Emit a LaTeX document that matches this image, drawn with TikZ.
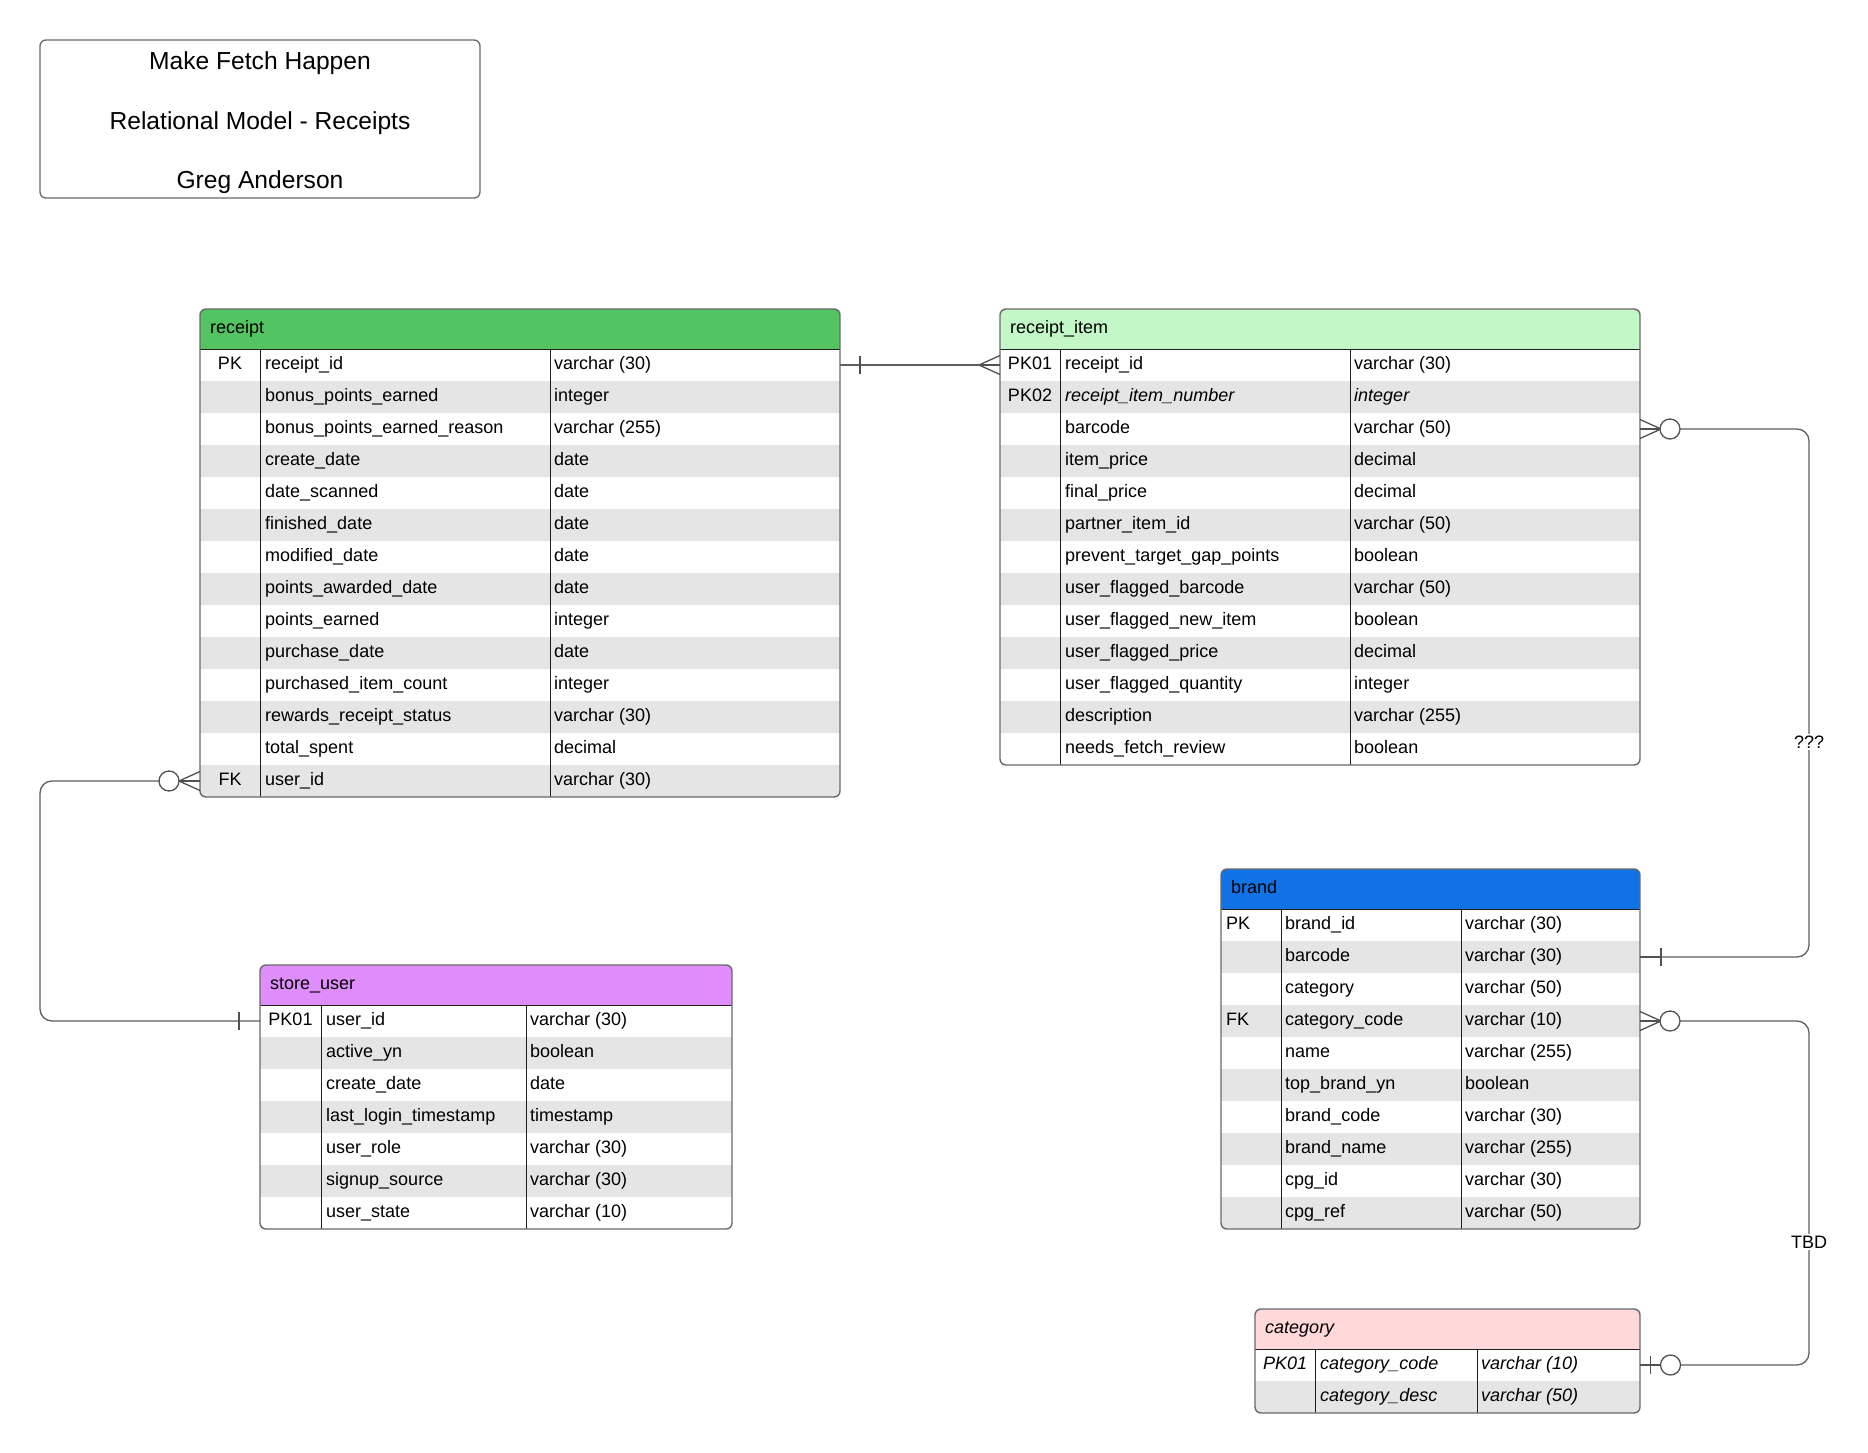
\documentclass[tikz,border=0pt]{standalone}
\usepackage{fontspec}
\setmainfont{Liberation Sans}
\usetikzlibrary{calc}

\definecolor{hdrgreen}{RGB}{84,196,98}
\definecolor{hdrmint}{RGB}{195,247,200}
\definecolor{hdrblue}{RGB}{16,114,228}
\definecolor{hdrviolet}{RGB}{223,141,250}
\definecolor{hdrpink}{RGB}{255,216,218}
\definecolor{rowgray}{RGB}{229,229,229}
\definecolor{framegray}{RGB}{105,105,105}
\definecolor{linkgray}{RGB}{95,95,95}
\definecolor{divblack}{RGB}{30,30,30}

\tikzset{
  tableframe/.style={draw=framegray, line width=1.4pt, rounded corners=6pt, inner sep=0pt, outer sep=0pt},
  titleframe/.style={draw=framegray, line width=1.3pt, rounded corners=6pt, inner sep=0pt, outer sep=0pt},
  divline/.style={draw=divblack, line width=1pt},
  celltext/.style={inner sep=0pt, font=\fontsize{18}{21}\selectfont},
  titletext/.style={inner sep=0pt, font=\fontsize{24.6}{28}\selectfont},
  link/.style={draw=linkgray, line width=1.3pt, rounded corners=12pt},
  linkmark/.style={draw=linkgray!85!black, line width=1.3pt},
  linklabel/.style={fill=white, inner sep=2pt, font=\fontsize{18}{21}\selectfont},
}

% An entity table: #1 name, #2 left, #3 top, #4 right, #5 first divider,
% #6 second divider, #7 number of rows, #8 header colour, #9 title
\newcommand\erdtable[9]{%
  \pgfmathsetmacro\erdhy{#3+40}%
  \pgfmathsetmacro\erdby{#3+40+32*#7}%
  \pgfmathsetmacro\erdw{#4-#2}%
  \pgfmathsetmacro\erdh{40+32*#7}%
  \begin{scope}
    \clip[rounded corners=6pt] (#2,#3) rectangle (#4,\erdby);
    \fill[white] (#2,#3) rectangle (#4,\erdby);
    \fill[#8] (#2,#3) rectangle (#4,\erdhy);
    \foreach \i in {1,...,#7}{%
      \pgfmathsetmacro\erdra{\erdhy+32*(\i-1)}%
      \pgfmathsetmacro\erdrb{\erdhy+32*\i}%
      \pgfmathsetmacro\erdrc{\erdhy+32*\i-16}%
      \ifodd\i\else\fill[rowgray] (#2,\erdra) rectangle (#4,\erdrb);\fi
      \coordinate (#1-r\i-w) at (#2,\erdrc);
      \coordinate (#1-r\i-e) at (#4,\erdrc);
    }
  \end{scope}
  \draw[divline] (#2,\erdhy) -- (#4,\erdhy);
  \draw[divline] (#5,\erdhy) -- (#5,\erdby);
  \draw[divline] (#6,\erdhy) -- (#6,\erdby);
  \node[tableframe, minimum width=\erdw pt, minimum height=\erdh pt, anchor=north west] (#1) at (#2,#3) {};
  \node[celltext, anchor=base west] (#1-name) at ({#2+10},{#3+24}) {#9};
}

% Rows of a table: #1 name, #2 key x, #3 key anchor, #4 field x,
% #5 type x, #6 header bottom, #7 key/field/type list
\newcommand\erdfields[7]{%
  \foreach \k/\f/\t [count=\i] in {#7}{%
    \pgfmathsetmacro\erdbl{#6+32*\i-12}%
    \node[celltext, anchor=#3] (#1-k\i) at (#2,\erdbl) {\k};
    \node[celltext, anchor=base west] (#1-f\i) at (#4,\erdbl) {\f};
    \node[celltext, anchor=base west] (#1-t\i) at (#5,\erdbl) {\t};
  }}

% Relationship end marks: #1 end coordinate, #2 signed offset or direction
\newcommand\linkbar[2]{%
  \draw[linkmark] ($(#1)+({#2},-9)$) -- ($(#1)+({#2},9)$);}
\newcommand\linkcrow[2]{%
  \draw[linkmark] ($(#1)+(0,-9.5)$) -- ($(#1)+({21*(#2)},0)$) -- ($(#1)+(0,9.5)$);
  \draw[linkmark, line width=2.2pt] (#1) -- ($(#1)+({21*(#2)},0)$);}
\newcommand\linkzero[2]{%
  \draw[linkmark, fill=white] ($(#1)+({#2},0)$) circle[radius=10pt];}

\begin{document}
\begin{tikzpicture}[x=1pt, y=-1pt]
  \useasboundingbox (0,0) rectangle (1868,1453);
  \fill[white] (0,0) rectangle (1868,1453);

  % Title block
  \node[titleframe, minimum width=440pt, minimum height=158pt, anchor=north west] (title) at (40,40) {};
  \node[titletext, anchor=base] (title-l1) at (260,70) {Make Fetch Happen};
  \node[titletext, anchor=base] (title-l2) at (260,129) {Relational Model - Receipts};
  \node[titletext, anchor=base] (title-l3) at (260,188) {Greg Anderson};

  % receipt
  \erdtable{receipt}{200}{309}{840}{260}{550}{14}{hdrgreen}{receipt}
  \erdfields{receipt}{230}{base}{265}{554}{349}{
    PK/receipt\_id/varchar (30),
    {}/bonus\_points\_earned/integer,
    {}/bonus\_points\_earned\_reason/varchar (255),
    {}/create\_date/date,
    {}/date\_scanned/date,
    {}/finished\_date/date,
    {}/modified\_date/date,
    {}/points\_awarded\_date/date,
    {}/points\_earned/integer,
    {}/purchase\_date/date,
    {}/purchased\_item\_count/integer,
    {}/rewards\_receipt\_status/varchar (30),
    {}/total\_spent/decimal,
    FK/user\_id/varchar (30)}

  % receipt_item
  \erdtable{item}{1000}{309}{1640}{1060}{1350}{13}{hdrmint}{receipt\_item}
  \erdfields{item}{1030}{base}{1065}{1354}{349}{
    PK01/receipt\_id/varchar (30),
    PK02/\textit{receipt\_item\_number}/\textit{integer},
    {}/barcode/varchar (50),
    {}/item\_price/decimal,
    {}/final\_price/decimal,
    {}/partner\_item\_id/varchar (50),
    {}/prevent\_target\_gap\_points/boolean,
    {}/user\_flagged\_barcode/varchar (50),
    {}/user\_flagged\_new\_item/boolean,
    {}/user\_flagged\_price/decimal,
    {}/user\_flagged\_quantity/integer,
    {}/description/varchar (255),
    {}/needs\_fetch\_review/boolean}

  % brand
  \erdtable{brand}{1221}{869}{1640}{1281}{1461}{10}{hdrblue}{brand}
  \erdfields{brand}{1226}{base west}{1285}{1465}{909}{
    PK/brand\_id/varchar (30),
    {}/barcode/varchar (30),
    {}/category/varchar (50),
    FK/category\_code/varchar (10),
    {}/name/varchar (255),
    {}/top\_brand\_yn/boolean,
    {}/brand\_code/varchar (30),
    {}/brand\_name/varchar (255),
    {}/cpg\_id/varchar (30),
    {}/cpg\_ref/varchar (50)}

  % store_user
  \erdtable{store}{260}{965}{732}{321}{526}{7}{hdrviolet}{store\_user}
  \erdfields{store}{290.5}{base}{326}{530}{1005}{
    PK01/user\_id/varchar (30),
    {}/active\_yn/boolean,
    {}/create\_date/date,
    {}/last\_login\_timestamp/timestamp,
    {}/user\_role/varchar (30),
    {}/signup\_source/varchar (30),
    {}/user\_state/varchar (10)}

  % category
  \erdtable{category}{1255}{1309}{1640}{1315}{1477}{2}{hdrpink}{\textit{category}}
  \erdfields{category}{1285}{base}{1320}{1481}{1349}{
    \textit{PK01}/\textit{category\_code}/\textit{varchar (10)},
    {}/\textit{category\_desc}/\textit{varchar (50)}}

  % Routing rails for the bent relationships
  \coordinate (rrail) at (1809,0);
  \coordinate (lrail) at (40,0);

  % receipt 1 -- many receipt_item
  \draw[link] (receipt-r1-e) -- (item-r1-w);
  \linkbar{receipt-r1-e}{20}
  \linkcrow{item-r1-w}{-1}

  % receipt_item many -- 1 brand
  \draw[link] (item-r3-e) -- (item-r3-e -| rrail) -- (brand-r2-e -| rrail) -- (brand-r2-e);
  \linkcrow{item-r3-e}{1}
  \linkzero{item-r3-e}{30}
  \draw[linkmark, line width=2.2pt] (brand-r2-e) -- ($(brand-r2-e)+(21,0)$);
  \linkbar{brand-r2-e}{21}
  \node[linklabel] (q-label) at (1809,742) {???};

  % brand many -- 0..1 category
  \draw[link] (brand-r4-e) -- (brand-r4-e -| rrail) -- (category-r1-e -| rrail) -- (category-r1-e);
  \linkcrow{brand-r4-e}{1}
  \linkzero{brand-r4-e}{30}
  \draw[linkmark, line width=2.2pt] (category-r1-e) -- ($(category-r1-e)+(20,0)$);
  \linkbar{category-r1-e}{10.5}
  \linkzero{category-r1-e}{30.5}
  \node[linklabel] (tbd-label) at (1809,1242) {TBD};

  % receipt many -- 1 store_user
  \draw[link] (receipt-r14-w) -- (receipt-r14-w -| lrail) -- (store-r1-w -| lrail) -- (store-r1-w);
  \linkcrow{receipt-r14-w}{-1}
  \linkzero{receipt-r14-w}{-31}
  \linkbar{store-r1-w}{-21}
\end{tikzpicture}
\end{document}
